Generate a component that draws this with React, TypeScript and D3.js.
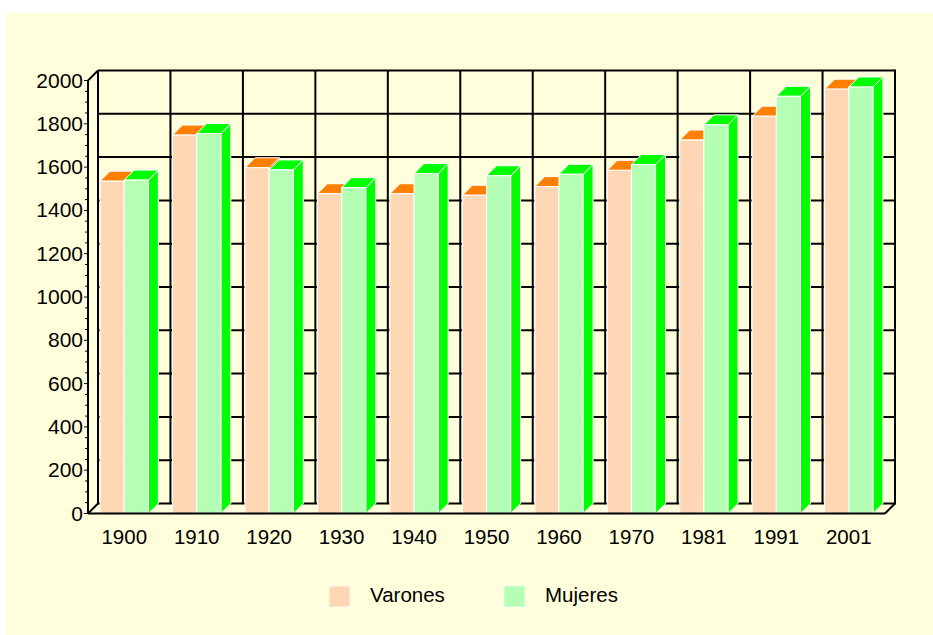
import React from "react";
import * as d3 from "d3";

const categories = ["1900", "1910", "1920", "1930", "1940", "1950", "1960", "1970", "1981", "1991", "2001"];
const varones = [1535, 1748, 1597, 1477, 1477, 1470, 1510, 1585, 1725, 1835, 1960];
const mujeres = [1540, 1755, 1587, 1505, 1570, 1560, 1567, 1612, 1795, 1927, 1970];
const seriesNames = ["Varones", "Mujeres"];
const yTicks = [0, 200, 400, 600, 800, 1000, 1200, 1400, 1600, 1800, 2000];

const W = 933;
const H = 635;
const DX = 10;
const DY = 10;
const BACK_LEFT = 98;
const BACK_RIGHT = 895;
const BACK_BOTTOM = 503.5;
const BACK_TOP = 70.5;

const frontColors = ["#FFD7B5", "#B5FFB5"];
const darkColors = ["#FF8000", "#00FF00"];

export default function App() {
  const x = d3.scaleBand<string>().domain(categories).range([BACK_LEFT - DX, BACK_RIGHT - DX]).padding(0);
  const yBack = d3.scaleLinear().domain([0, 2000]).range([BACK_BOTTOM, BACK_TOP]);
  const yFront = (v: number) => yBack(v) + DY;
  const bw = x.bandwidth();
  const barW = bw / 3;
  const minor = d3.range(0, 2001, 50);
  const data = [varones, mujeres];
  const font = "Arial, 'Liberation Sans', sans-serif";

  const bars: React.ReactNode[] = [];
  categories.forEach((c, i) => {
    [0, 1].forEach((s) => {
      const v = data[s][i];
      const x0 = (x(c) as number) + bw / 6 + s * barW;
      const x1 = x0 + barW;
      const yt = yFront(v);
      const yb = yFront(0);
      const top = `M${x0},${yt}L${x1},${yt}L${x1 + DX},${yt - DY}L${x0 + DX},${yt - DY}Z`;
      const side = `M${x1},${yt}L${x1 + DX},${yt - DY}L${x1 + DX},${yb - DY}L${x1},${yb}Z`;
      bars.push(
        <g key={c + s}>
          <path d={side} fill={darkColors[s]} stroke="#ffffff" strokeWidth={1} />
          <path d={top} fill={darkColors[s]} stroke="#ffffff" strokeWidth={1} />
          <rect x={x0} y={yt} width={barW} height={yb - yt} fill={frontColors[s]} stroke="#ffffff" strokeWidth={1} />
        </g>
      );
    });
  });

  return (
    <svg width={W} height={H} style={{ position: "absolute", left: 0, top: 0 }}>
      <rect x={6} y={13} width={W - 6} height={H - 13} fill="#FFFFDC" />
      {/* back wall grid */}
      {yTicks.map((t) => (
        <line key={"h" + t} x1={BACK_LEFT} x2={BACK_RIGHT} y1={yBack(t)} y2={yBack(t)} stroke="#000" strokeWidth={2} />
      ))}
      {categories.map((c) => (
        <line key={"v" + c} x1={(x(c) as number) + DX} x2={(x(c) as number) + DX} y1={BACK_TOP} y2={BACK_BOTTOM} stroke="#000" strokeWidth={2} />
      ))}
      <line x1={BACK_RIGHT} x2={BACK_RIGHT} y1={BACK_TOP - 1} y2={BACK_BOTTOM + 1} stroke="#000" strokeWidth={2} />
      {/* left wall */}
      <line x1={BACK_LEFT - DX} y1={yFront(2000)} x2={BACK_LEFT} y2={yBack(2000)} stroke="#000" strokeWidth={2} />
      <line x1={BACK_LEFT - DX} y1={yFront(0)} x2={BACK_LEFT} y2={yBack(0)} stroke="#000" strokeWidth={2} />
      <line x1={BACK_RIGHT - DX} y1={yFront(0)} x2={BACK_RIGHT} y2={yBack(0)} stroke="#000" strokeWidth={2} />
      {bars}
      {/* front axes */}
      <line x1={BACK_LEFT - DX} x2={BACK_RIGHT - DX} y1={yFront(0)} y2={yFront(0)} stroke="#000" strokeWidth={2} />
      <line x1={BACK_LEFT - DX} x2={BACK_LEFT - DX} y1={yFront(2000)} y2={yFront(0)} stroke="#000" strokeWidth={2} />
      {minor.map((t) => (
        <line key={"m" + t} x1={BACK_LEFT - DX - (t % 200 === 0 ? 4 : 3)} x2={BACK_LEFT - DX} y1={yFront(t)} y2={yFront(t)} stroke="#000" strokeWidth={1} />
      ))}
      {yTicks.map((t) => (
        <text key={"yl" + t} x={83} y={yFront(t) + 7} textAnchor="end" fontFamily={font} fontSize={21} fill="#000">
          {t}
        </text>
      ))}
      {categories.map((c) => (
        <text key={"xl" + c} x={(x(c) as number) + bw / 2} y={544} textAnchor="middle" fontFamily={font} fontSize={20.5} fill="#000">
          {c}
        </text>
      ))}
      {/* legend */}
      {seriesNames.map((n, i) => {
        const lx = [329, 504][i];
        return (
          <g key={n}>
            <rect x={lx} y={586} width={21} height={21} fill={frontColors[i]} stroke="#ffffff" strokeWidth={1} strokeOpacity={0.6} />
            <text x={lx + 41} y={602} fontFamily={font} fontSize={20.5} fill="#000">
              {n}
            </text>
          </g>
        );
      })}
    </svg>
  );
}
